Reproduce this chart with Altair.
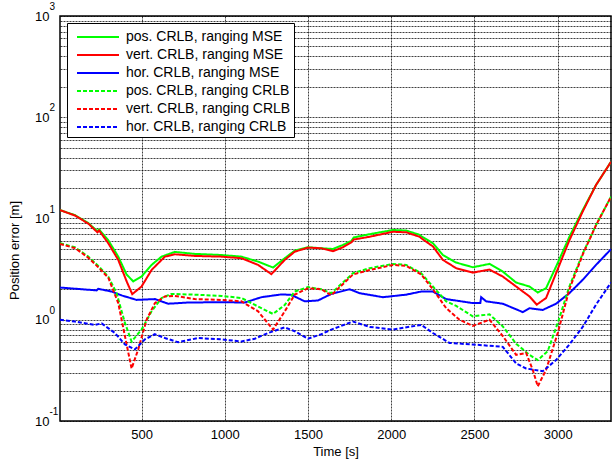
import altair as alt
import pandas as pd

FONT = "Liberation Sans"

SERIES = [
    "pos. CRLB, ranging MSE",
    "vert. CRLB, ranging MSE",
    "hor. CRLB, ranging MSE",
    "pos. CRLB, ranging CRLB",
    "vert. CRLB, ranging CRLB",
    "hor. CRLB, ranging CRLB",
]
COLORS = ["#00ff00", "#ff0000", "#0000ff", "#00ff00", "#ff0000", "#0000ff"]
DASHES = [[1, 0], [1, 0], [1, 0], [4, 2], [4, 2], [4, 2]]

pos_mse_t = [10, 100, 180, 235, 245, 300, 360, 410, 450, 500, 560, 620, 700, 820, 980, 1100, 1200, 1290,
             1360, 1420, 1500, 1580, 1650, 1710, 1760, 1775, 1870, 2010, 2090, 2170, 2185, 2250, 2310,
             2390, 2490, 2590, 2670, 2750, 2830, 2880, 2930, 2990, 3070, 3150, 3230, 3320]
pos_mse_v = [12.1, 10.8, 9.0, 7.5, 7.8, 6.1, 4.2, 2.8, 2.39, 2.67, 3.48, 4.2, 4.68, 4.47, 4.36, 4.2, 3.75, 3.28,
             4.05, 4.82, 5.2, 5.08, 5.0, 5.48, 6.0, 6.5, 7.0, 7.7, 7.6, 6.9, 6.6, 5.7, 4.37,
             3.67, 3.3, 3.56, 2.99, 2.33, 2.13, 1.86, 2.05, 3.35, 6.6, 12.1, 21.4, 36.3]

vert_mse_t = [10, 100, 180, 235, 245, 300, 360, 410, 444, 500, 560, 640, 700, 820, 980, 1100, 1200, 1280,
              1360, 1420, 1500, 1580, 1650, 1710, 1760, 1775, 1870, 2010, 2090, 2170, 2185, 2250, 2310,
              2390, 2490, 2590, 2670, 2750, 2830, 2874, 2930, 2990, 3070, 3150, 3230, 3320]
vert_mse_v = [12.1, 10.7, 8.9, 7.3, 7.6, 5.7, 3.9, 2.4, 1.79, 2.13, 3.1, 4.2, 4.43, 4.27, 4.2, 4.05, 3.48, 2.82,
              3.9, 4.7, 5.16, 5.08, 4.75, 5.2, 5.8, 6.2, 6.6, 7.4, 7.3, 6.6, 6.3, 5.3, 3.9,
              3.23, 2.92, 3.13, 2.67, 2.13, 1.70, 1.41, 1.64, 2.88, 6.1, 11.7, 21.4, 36.3]

hor_mse_t = [10, 230, 240, 320, 380, 470, 580, 660, 780, 980, 1120, 1220, 1340, 1400, 1480, 1560, 1640,
             1750, 1810, 1950, 2090, 2180, 2250, 2330, 2490, 2535, 2540, 2570, 2670, 2790, 2830, 2910,
             2990, 3070, 3150, 3230, 3320]
hor_mse_v = [2.08, 1.95, 2.02, 1.90, 1.74, 1.57, 1.60, 1.44, 1.48, 1.49, 1.48, 1.67, 1.78, 1.76, 1.52, 1.55, 1.80,
             2.0, 1.83, 1.67, 1.77, 1.9, 1.9, 1.60, 1.46, 1.46, 1.67, 1.52, 1.44, 1.19, 1.3, 1.25,
             1.44, 1.83, 2.48, 3.48, 4.97]

pos_crlb_t = [10, 100, 180, 240, 300, 350, 400, 440, 500, 560, 620, 680, 820, 980, 1100, 1200, 1290, 1360,
              1420, 1500, 1580, 1640, 1770, 1870, 2010, 2090, 2180, 2250, 2330, 2390, 2490, 2590, 2670,
              2750, 2830, 2880, 2940, 3000, 3070, 3150, 3230, 3320]
pos_crlb_v = [5.69, 5.2, 4.2, 3.4, 2.67, 1.83, 0.93, 0.61, 0.80, 1.21, 1.64, 1.80, 1.77, 1.72, 1.64, 1.35, 1.14, 1.40,
              1.90, 2.10, 2.0, 1.83, 2.88, 3.23, 3.56, 3.48, 2.88, 2.13, 1.52, 1.37, 1.08, 1.13, 0.86,
              0.58, 0.45, 0.40, 0.49, 0.93, 2.13, 4.5, 8.6, 16.4]

vert_crlb_t = [10, 100, 180, 240, 300, 360, 400, 440, 480, 530, 580, 640, 700, 820, 980, 1100, 1200, 1290,
               1360, 1420, 1500, 1580, 1640, 1770, 1870, 2010, 2090, 2180, 2250, 2330, 2410, 2490, 2590,
               2670, 2750, 2810, 2850, 2880, 2930, 3000, 3070, 3150, 3230, 3320]
vert_crlb_v = [5.6, 5.1, 4.1, 3.3, 2.6, 1.46, 0.69, 0.33, 0.51, 1.0, 1.46, 1.70, 1.72, 1.6, 1.57, 1.52, 1.21, 0.80,
               1.21, 1.77, 2.05, 2.0, 1.75, 2.8, 3.1, 3.48, 3.4, 2.8, 2.0, 1.3, 1.0, 0.87, 1.0,
               0.69, 0.45, 0.47, 0.32, 0.22, 0.32, 0.74, 2.0, 4.4, 8.6, 16.4]

hor_crlb_t = [10, 100, 220, 260, 340, 400, 460, 520, 580, 640, 720, 840, 980, 1100, 1180, 1260, 1360, 1420,
              1500, 1580, 1640, 1770, 1870, 2010, 2180, 2250, 2350, 2490, 2670, 2750, 2810, 2910, 2990,
              3070, 3150, 3230, 3320]
hor_crlb_v = [1.0, 0.96, 0.89, 0.92, 0.74, 0.57, 0.51, 0.64, 0.72, 0.66, 0.60, 0.66, 0.64, 0.61, 0.65, 0.74, 0.84, 0.77,
              0.65, 0.72, 0.80, 0.96, 0.85, 0.80, 0.89, 0.74, 0.59, 0.57, 0.54, 0.37, 0.33, 0.31, 0.40,
              0.57, 0.85, 1.41, 2.33]

X_TICKS = [500, 1000, 1500, 2000, 2500, 3000]
DECADES = [0.1, 1, 10, 100, 1000]
EXPONENTS = ["-1", "0", "1", "2", "3"]

all_t = [pos_mse_t, vert_mse_t, hor_mse_t, pos_crlb_t, vert_crlb_t, hor_crlb_t]
all_v = [pos_mse_v, vert_mse_v, hor_mse_v, pos_crlb_v, vert_crlb_v, hor_crlb_v]
rows = []
for name, ts, vs in zip(SERIES, all_t, all_v):
    for t, v in zip(ts, vs):
        rows.append({"series": name, "t": t, "v": v})
df = pd.DataFrame(rows)

y_values = [m * d for d in DECADES[:-1] for m in range(1, 10)] + [DECADES[-1]]

xscale = alt.Scale(domain=[10, 3320], nice=False, zero=False)
yscale = alt.Scale(type="log", domain=[0.1, 1000], nice=False)

legend = alt.Legend(
    title=None, orient="none", legendX=7, legendY=7,
    fillColor="white", strokeColor="black", padding=3,
    symbolType="M-1,0H3.2", symbolSize=400, symbolStrokeWidth=2,
    symbolOffset=6, labelOffset=28, rowPadding=0,
    labelFont=FONT, labelFontSize=14, labelColor="black", labelLimit=400,
)

lines = alt.Chart(df).mark_line(strokeWidth=2, clip=True).encode(
    x=alt.X("t:Q", scale=xscale, axis=alt.Axis(
        values=X_TICKS, format="d", title="Time [s]", grid=True, labelPadding=7, titlePadding=4)),
    y=alt.Y("v:Q", scale=yscale, axis=alt.Axis(
        values=y_values,
        labelExpr="abs(log(datum.value)/LN10 - round(log(datum.value)/LN10)) < 0.001 ? '10' : ''",
        title="Position error [m]", grid=True, labelPadding=11,
        titleX=-46, titleY=234, titleAlign="center", titleBaseline="middle")),
    color=alt.Color("series:N", scale=alt.Scale(domain=SERIES, range=COLORS), legend=legend),
    strokeDash=alt.StrokeDash("series:N", scale=alt.Scale(domain=SERIES, range=DASHES), legend=legend),
)

exp_df = pd.DataFrame({"v": DECADES, "e": EXPONENTS})
exps = alt.Chart(exp_df).mark_text(
    align="left", baseline="middle", font=FONT, fontSize=10, dy=-9, color="black"
).encode(
    x=alt.value(-10.5),
    y=alt.Y("v:Q", scale=yscale),
    text="e:N",
)

chart = alt.layer(lines, exps).properties(
    width=551, height=405,
    autosize=alt.AutoSizeParams(type="none"),
    padding={"left": 60, "top": 16, "right": 2, "bottom": 43},
).configure_view(
    stroke="black", strokeWidth=1.5
).configure_axis(
    domain=False, ticks=False,
    gridColor="#000000", gridDash=[2, 1], gridOpacity=0.75, gridWidth=1,
    labelFont=FONT, labelFontSize=13, labelColor="black",
    titleFont=FONT, titleFontSize=13, titleFontWeight="normal", titleColor="black",
)

chart.save("out.html", embed_options={"renderer": "svg", "actions": False})
